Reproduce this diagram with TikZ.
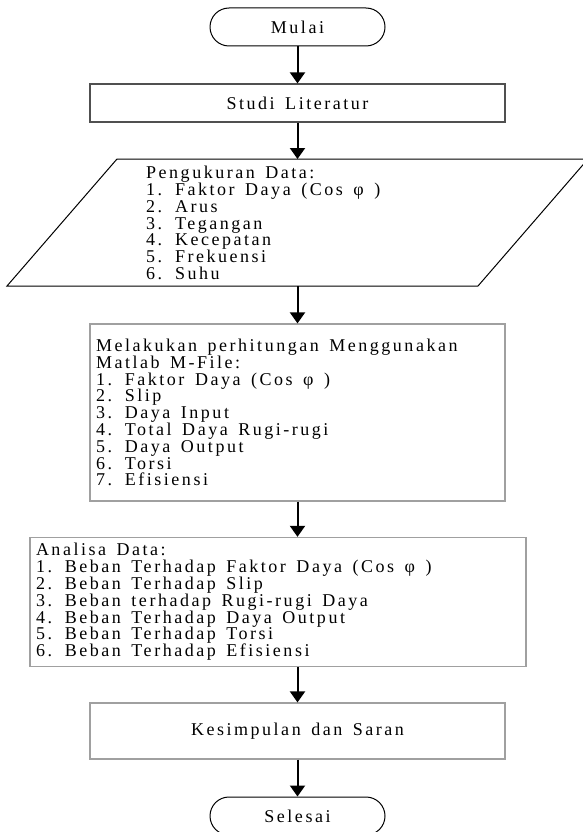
\documentclass[tikz,border=0pt]{standalone}
\usepackage{fontspec}
\setmainfont{Liberation Serif}[LetterSpace=14,WordSpace=1.5]
\usetikzlibrary{arrows.meta}
\definecolor{boxgray}{HTML}{A0A0A0}
\definecolor{darkline}{HTML}{505050}
\begin{document}
\begin{tikzpicture}[x=1pt,y=-1pt,
  txt/.style={font=\fontsize{18}{16.8}\selectfont},
  term/.style={txt, draw=black, line width=1pt, rounded corners=19pt,
    minimum width=175pt, minimum height=38pt, inner sep=0pt},
  procbox/.style={txt, draw=boxgray, line width=1.2pt, inner sep=6pt, align=flush left},
  flow/.style={line width=2pt, -{Triangle[width=15pt,length=11pt]}}
]
\useasboundingbox (0,0) rectangle (582,832);

\node[term] (start) at (297.5,27) {Mulai};

\node[procbox, draw=darkline, minimum width=415pt, minimum height=38pt, inner sep=0pt] (studi) at (297.5,103) {Studi Literatur};

\coordinate (ptl) at (117,159);
\coordinate (ptr) at (588,159);
\coordinate (pbr) at (478,286);
\coordinate (pbl) at (7,286);
\coordinate (ptop) at (297.5,159);
\coordinate (pbot) at (297.5,286);
\draw[line width=1pt] (ptl) -- (ptr) -- (pbr) -- (pbl) -- cycle;
\node[txt, anchor=west, align=flush left, inner sep=0pt] (ukur) at (146,223) {Pengukuran Data:\\
1. Faktor Daya (Cos φ )\\
2. Arus\\
3. Tegangan\\
4. Kecepatan\\
5. Frekuensi\\
6. Suhu};

\node[procbox, minimum width=415pt, minimum height=177pt, text width=403pt] (hitung) at (297.5,412.5) {Melakukan perhitungan Menggunakan\\
Matlab M-File:\\
1. Faktor Daya (Cos φ )\\
2. Slip\\
3. Daya Input\\
4. Total Daya Rugi-rugi\\
5. Daya Output\\
6. Torsi\\
7. Efisiensi};

\node[procbox, minimum width=496pt, minimum height=126pt, text width=484pt] (analisa) at (278,602) {Analisa Data:\\
1. Beban Terhadap Faktor Daya (Cos φ )\\
2. Beban Terhadap Slip\\
3. Beban terhadap Rugi-rugi Daya\\
4. Beban Terhadap Daya Output\\
5. Beban Terhadap Torsi\\
6. Beban Terhadap Efisiensi};

\node[procbox, minimum width=415pt, minimum height=56pt, align=center] (simpul) at (297.5,731) {Kesimpulan dan Saran};

\node[term] (finish) at (297.5,816) {Selesai};

\draw[flow] (start.south) -- (studi.north);
\draw[flow] (studi.south) -- (ptop);
\draw[flow] (pbot) -- (hitung.north);
\draw[flow] (hitung.south) -- (hitung.south |- analisa.north);
\draw[flow] (analisa.south -| simpul.north) -- (simpul.north);
\draw[flow] (simpul.south) -- (finish.north);
\end{tikzpicture}
\end{document}
